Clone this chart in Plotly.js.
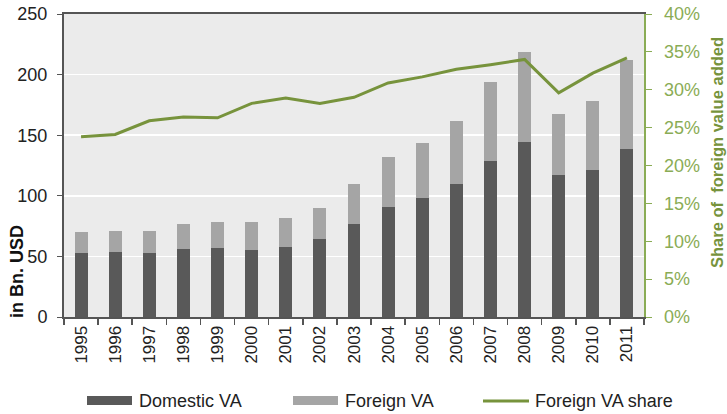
<!DOCTYPE html>
<html>
<head>
<meta charset="utf-8">
<script src="https://cdn.plot.ly/plotly-3.0.1.min.js"></script>
<style>html,body{margin:0;padding:0;background:#fff;}#chart{width:727px;height:414px;}</style>
</head>
<body>
<div id="chart"></div>
<script>
const years = ["1995","1996","1997","1998","1999","2000","2001","2002","2003","2004","2005","2006","2007","2008","2009","2010","2011"];
const domesticVA = [53, 53.5, 53, 56, 57, 55.5, 58, 64.5, 77, 91, 98, 109.5, 129, 144, 117.5, 121, 139];
const foreignVA  = [17, 17.5, 18, 20.5, 21, 22.5, 23.5, 25.5, 32.5, 41, 45.5, 52.5, 65, 74.5, 50, 57.5, 73];
const foreignShare = [0.238, 0.241, 0.259, 0.264, 0.263, 0.282, 0.289, 0.282, 0.290, 0.309, 0.317, 0.327, 0.333, 0.340, 0.296, 0.322, 0.342];
const seriesNames = ["Domestic VA", "Foreign VA", "Foreign VA share"];

const FONT = "Liberation Sans, Arial, sans-serif";
const DARK = "#595959", LIGHT = "#a5a5a5";
const GREEN = "#77933c";
const GREEN_LIGHT = "#8aac55";

const W = 727, H = 414;
const M = {l:64, r:83, t:14, b:97};
const PW = W - M.l - M.r, PH = H - M.t - M.b;
const px = v => (v - M.l) / PW;
const py = v => (H - M.b - v) / PH;

const traces = [
  {type:"bar", name:seriesNames[0], x:years, y:domesticVA, marker:{color:DARK}, yaxis:"y"},
  {type:"bar", name:seriesNames[1], x:years, y:foreignVA, marker:{color:LIGHT}, yaxis:"y"},
  {type:"scatter", mode:"lines", name:seriesNames[2], x:years, y:foreignShare, yaxis:"y2",
   line:{color:GREEN, width:3}}
];

// custom legend (wide swatches like the original)
const legendShapes = [
  {type:"rect", xref:"paper", yref:"paper", x0:px(87), x1:px(132), y0:py(405), y1:py(396), fillcolor:DARK, line:{width:0}},
  {type:"rect", xref:"paper", yref:"paper", x0:px(293), x1:px(338), y0:py(405), y1:py(396), fillcolor:LIGHT, line:{width:0}},
  {type:"line", xref:"paper", yref:"paper", x0:px(483), x1:px(529), y0:py(401), y1:py(401), line:{color:GREEN, width:3}}
];
const legendText = [137, 343, 533].map((x, i) => ({
  text: seriesNames[i], xref:"paper", yref:"paper", x:px(x), y:py(401),
  xanchor:"left", yanchor:"middle", showarrow:false,
  font:{family:FONT, size:18, color:"#222"}
}));

const layout = {
  width:W, height:H,
  margin:{l:M.l, r:M.r, t:M.t, b:M.b, autoexpand:false},
  paper_bgcolor:"#ffffff", plot_bgcolor:"#ebebeb",
  barmode:"stack", bargap:0.62,
  font:{family:FONT, size:17, color:"#222"},
  showlegend:false,
  xaxis:{type:"category", showline:true, linecolor:"#555", linewidth:2, mirror:true,
         ticks:"outside", tickson:"boundaries", ticklen:6, tickcolor:"#555", tickwidth:1.5,
         tickangle:-90, tickfont:{family:FONT, size:17, color:"#222"}, showgrid:false},
  yaxis:{range:[0,250], dtick:50, showline:true, linecolor:"#555", linewidth:2,
         ticks:"outside", ticklen:5, tickcolor:"#555", gridcolor:"#ffffff", gridwidth:1.5,
         ticklabelstandoff:6,
         zeroline:false, tickfont:{family:FONT, size:18, color:"#222"}},
  yaxis2:{overlaying:"y", side:"right", range:[0,0.4], dtick:0.05, tickformat:".0%",
          showline:true, linecolor:GREEN_LIGHT, linewidth:1.5, ticks:"outside", ticklen:6,
          tickcolor:GREEN_LIGHT, showgrid:false, zeroline:false, ticklabelstandoff:9,
          tickfont:{family:FONT, size:18, color:GREEN_LIGHT}},
  shapes: legendShapes,
  annotations:[
    {text:"<b>in Bn. USD</b>", textangle:-90, xref:"paper", yref:"paper",
     x:px(17), y:py(272), xanchor:"center", yanchor:"middle", showarrow:false,
     font:{family:FONT, size:18, color:"#111"}},
    {text:"<b>Share of  foreign value added</b>", textangle:-90, xref:"paper", yref:"paper",
     x:px(717), y:py(153), xanchor:"center", yanchor:"middle", showarrow:false,
     font:{family:FONT, size:16.5, color:GREEN}}
  ].concat(legendText)
};

Plotly.newPlot("chart", traces, layout, {displayModeBar:false, staticPlot:true});
</script>
</body>
</html>
